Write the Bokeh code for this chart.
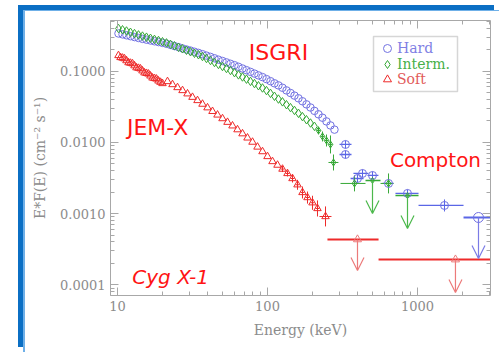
from bokeh.plotting import figure
from bokeh.models import (Range1d, FixedTicker, PrintfTickFormatter, LogAxis, Label,
                          Legend, LegendItem, PolyAnnotation, Arrow, OpenHead, ColumnDataSource)
from bokeh.embed import file_html
from bokeh.resources import INLINE

# ---------------- data ----------------
hard_e = [10.15, 10.80, 11.48, 12.20, 12.98, 13.80, 14.67, 15.60, 16.59, 17.64,
          18.76, 19.95, 21.21, 22.55, 23.98, 25.50, 27.11, 28.83, 30.66, 32.60,
          34.66, 36.85, 39.19, 41.67, 44.31, 47.11, 50.10, 53.27, 56.64, 60.23,
          64.04, 68.10, 72.41, 77.00, 81.87, 87.06, 92.57, 98.43, 104.7, 111.3,
          118.3, 125.8, 133.8, 142.3, 151.3, 160.9, 171.0, 181.9, 193.4, 205.6,
          218.7, 232.5, 247.2, 262.9, 279.5]
hard_f = [0.3384, 0.3287, 0.3192, 0.3101, 0.3012, 0.2926, 0.2842, 0.2769, 0.2698, 0.2629,
          0.2562, 0.2497, 0.2425, 0.2341, 0.2252, 0.2174, 0.2090, 0.2017, 0.1947, 0.1873,
          0.1807, 0.1733, 0.1656, 0.1588, 0.1518, 0.1450, 0.1390, 0.1329, 0.1270, 0.1214,
          0.1153, 0.1091, 0.1033, 0.0978, 0.0925, 0.0873, 0.0826, 0.0774, 0.0724, 0.0676,
          0.0632, 0.0585, 0.0537, 0.0494, 0.0454, 0.0416, 0.0378, 0.0342, 0.0309, 0.0277,
          0.0248, 0.0222, 0.0197, 0.0173, 0.0151]

interm_e = [10.15, 10.80, 11.48, 12.20, 12.98, 13.80, 14.67, 15.60, 16.59, 17.64,
            18.76, 19.95, 21.21, 22.55, 23.98, 25.50, 27.11, 28.83, 30.66, 32.60,
            34.66, 36.85, 39.19, 41.67, 44.31, 47.11, 50.10, 53.27, 56.64, 60.23,
            64.04, 68.10, 72.41, 77.00, 81.87, 87.06, 92.57, 98.43, 104.7, 111.3,
            118.3, 125.8, 133.8, 142.3, 151.3, 160.9, 171.0, 181.9, 193.4, 205.6]
interm_f = [0.3978, 0.3815, 0.3670, 0.3518, 0.3373, 0.3234, 0.3112, 0.3003, 0.2898, 0.2797,
            0.2698, 0.2595, 0.2497, 0.2379, 0.2273, 0.2166, 0.2064, 0.1966, 0.1873, 0.1784,
            0.1700, 0.1609, 0.1508, 0.1413, 0.1325, 0.1242, 0.1164, 0.1091, 0.1023, 0.0953,
            0.0887, 0.0829, 0.0772, 0.0719, 0.0670, 0.0624, 0.0581, 0.0534, 0.0488, 0.0444,
            0.0406, 0.0371, 0.0338, 0.0308, 0.0281, 0.0256, 0.0230, 0.0208, 0.0187, 0.0168]

soft_e = [10.15, 10.47, 10.80, 11.13, 11.48, 11.84, 12.20, 12.59, 12.98, 13.38,
          13.80, 14.23, 14.67, 15.13, 15.60, 16.09, 16.59, 17.11, 17.64, 18.19,
          18.76, 19.34, 19.95,
          21.54, 23.26, 25.12, 27.13, 29.29, 31.62, 34.15, 36.87, 39.81, 42.99,
          46.42, 50.12, 54.12, 58.43, 63.10, 68.13, 73.56, 79.43, 85.77, 92.61,
          100.0, 108.0, 116.6, 125.9, 135.9, 146.8, 158.5, 171.1, 184.8, 199.5,
          215.4, 243.6]
soft_f = [0.1662, 0.1560, 0.1532, 0.1500, 0.1409, 0.1320, 0.1299, 0.1275, 0.1195, 0.1120,
          0.1102, 0.1080, 0.1013, 0.0950, 0.0934, 0.0915, 0.0859, 0.0805, 0.0792, 0.0778,
          0.0731, 0.0701, 0.0672,
          0.0717, 0.0650, 0.0590, 0.0536, 0.0482, 0.0431, 0.0388, 0.0345, 0.0307, 0.0273,
          0.0243, 0.0216, 0.0192, 0.0171, 0.0151, 0.01325, 0.01157, 0.01010, 0.00862, 0.00743,
          0.00634, 0.00539, 0.00480, 0.00422, 0.00366, 0.00311, 0.00254, 0.00198, 0.00168, 0.00142,
          0.00118, 0.00091]

# error bars of the high-energy soft points
soft_err_e = [125.9, 135.9, 146.8, 158.5, 171.1, 184.8, 199.5, 215.4, 243.6]
soft_err_f = [0.00422, 0.00366, 0.00311, 0.00254, 0.00198, 0.00168, 0.00142, 0.00118, 0.00091]
soft_err_flo = [0.00383, 0.00332, 0.00273, 0.00216, 0.00163, 0.00138, 0.00113, 0.00091, 0.00066]
soft_err_fhi = [0.00465, 0.00403, 0.00354, 0.00298, 0.00240, 0.00204, 0.00178, 0.00153, 0.00126]
soft_err_elo = [122.1, 131.8, 142.4, 153.7, 166.0, 179.2, 193.5, 208.9, 222.0]
soft_err_ehi = [129.8, 140.1, 151.3, 163.4, 176.4, 190.5, 205.7, 222.1, 267.0]

# sparse points with error bars (end of ISGRI + Compton mode)
hard_pt_e = [331.1, 331.1, 398.1, 429.9, 501.2, 640.9, 857.7, 1513.6]
hard_pt_f = [0.00935, 0.00676, 0.00311, 0.00366, 0.00343, 0.00265, 0.00192, 0.00130]
hard_pt_elo = [302.0, 302.0, 358.0, 374.0, 464.0, 585.0, 713.0, 1016.0]
hard_pt_ehi = [363.0, 363.0, 437.0, 471.0, 549.0, 692.0, 1016.0, 2027.0]
hard_pt_flo = [0.00822, 0.00594, 0.00273, 0.00322, 0.00301, 0.00233, 0.00169, 0.00107]
hard_pt_fhi = [0.01064, 0.00769, 0.00354, 0.00417, 0.00390, 0.00302, 0.00218, 0.00158]

interm_pt_e = [218.8, 232.6, 247.4, 263.0, 275.4, 380.2, 640.9]
interm_pt_f = [0.01469, 0.01211, 0.01063, 0.00935, 0.00522, 0.00265, 0.00265]
interm_pt_elo = [212.2, 225.6, 240.0, 255.1, 255.0, 306.7, 567.0]
interm_pt_ehi = [225.6, 239.8, 255.1, 271.2, 297.0, 450.2, 691.8]
interm_pt_flo = [0.01291, 0.01031, 0.00876, 0.00699, 0.00403, 0.00205, 0.00192]
interm_pt_fhi = [0.01672, 0.01423, 0.01290, 0.01251, 0.00676, 0.00343, 0.00366]

# upper limits (value, arrow tip, energy band)
interm_ul_e = [501.2, 857.7]
interm_ul_f = [0.00292, 0.00179]
interm_ul_tip = [0.00100, 0.000618]
interm_ul_elo = [450.2, 713.0]
interm_ul_ehi = [566.6, 1016.0]

hard_ul_e = [2551.0]
hard_ul_f = [0.000881]
hard_ul_tip = [0.000234]
hard_ul_elo = [2027.0]
hard_ul_ehi = [3300.0]

soft_ul_e = [398.1, 1791.0]
soft_ul_f = [0.000433, 0.000226]
soft_ul_tip = [0.000159, 0.0000780]
soft_ul_elo = [251.0, 550.0]
soft_ul_ehi = [550.0, 3300.0]

x_major = [10, 100, 1000]
y_major = [0.0001, 0.001, 0.01, 0.1]

# ---------------- styles ----------------
BLUE = "#7272e2"
BLUE_BAR = "#5a66e6"
GREEN = "#36a836"
RED = "#ee2a2a"
RED_ARROW = "#ec7a7a"
GREY_TXT = "#8c8c8c"
GREY_AX = "#a8a8a8"
FRAME = "#0b6fc4"
FRAME_LIGHT = "#6fb0e8"
LABEL_RED = "#ff1414"

p = figure(width=476, height=342, x_axis_type="log", y_axis_type="log",
           x_range=Range1d(8.98, 3067), y_range=Range1d(7.07e-5, 0.515),
           output_backend="svg", toolbar_location=None,
           min_border_left=85, min_border_right=11, min_border_top=9, min_border_bottom=58,
           background_fill_color="white", border_fill_color="white")
# the slide's blue frame: a dark outer band (shadow) and a thin light inner band (border)
p.margin = (10, 0, 0, 23)
p.styles = {"border-left": "2px solid " + FRAME_LIGHT,
            "border-top": "1px solid " + FRAME_LIGHT,
            "box-shadow": "-5px -5px 0px 0px " + FRAME}
p.outline_line_color = None
p.grid.visible = False

x_minor = [k * 10 ** e for e in range(0, 4) for k in range(2, 10)]
y_minor = [k * 10.0 ** e for e in range(-5, 0) for k in range(2, 10)]


def style_axis(ax, labels=True):
    ax.axis_line_color = GREY_AX
    ax.major_tick_line_color = GREY_AX
    ax.minor_tick_line_color = GREY_AX
    ax.major_tick_in = 8
    ax.major_tick_out = 0
    ax.minor_tick_in = 4
    ax.minor_tick_out = 0
    ax.major_label_text_font = "DejaVu Serif"
    ax.major_label_text_font_size = "13px"
    ax.major_label_text_color = GREY_TXT if labels else None
    ax.major_label_standoff = 5
    ax.axis_label_text_font = "DejaVu Serif"
    ax.axis_label_text_font_size = "14px"
    ax.axis_label_text_font_style = "normal"
    ax.axis_label_text_color = GREY_TXT


p.xaxis.ticker = FixedTicker(ticks=x_major, minor_ticks=x_minor)
p.yaxis.ticker = FixedTicker(ticks=y_major, minor_ticks=y_minor)
p.xaxis.formatter = PrintfTickFormatter(format="%d")
p.yaxis.formatter = PrintfTickFormatter(format="%.4f")
p.xaxis.axis_label = "Energy (keV)"
p.yaxis.axis_label = "E*F(E) (cm\u207b\u00b2 s\u207b\u00b9)"
p.xaxis.axis_label_standoff = 8
p.yaxis.axis_label_standoff = 9
style_axis(p.xaxis[0])
style_axis(p.yaxis[0])

top_ax = LogAxis(ticker=FixedTicker(ticks=x_major, minor_ticks=x_minor))
right_ax = LogAxis(ticker=FixedTicker(ticks=y_major, minor_ticks=y_minor))
style_axis(top_ax, labels=False)
style_axis(right_ax, labels=False)
p.add_layout(top_ax, "above")
p.add_layout(right_ax, "right")

# ---------------- error bars ----------------
p.segment(soft_err_e, soft_err_flo, soft_err_e, soft_err_fhi, line_color=RED, line_width=1)
p.segment(soft_err_elo, soft_err_f, soft_err_ehi, soft_err_f, line_color=RED, line_width=1)
p.segment(hard_pt_e, hard_pt_flo, hard_pt_e, hard_pt_fhi, line_color=BLUE_BAR, line_width=1)
p.segment(hard_pt_elo, hard_pt_f, hard_pt_ehi, hard_pt_f, line_color=BLUE_BAR, line_width=1.3)
p.segment(interm_pt_e, interm_pt_flo, interm_pt_e, interm_pt_fhi, line_color=GREEN, line_width=1)
p.segment(interm_pt_elo, interm_pt_f, interm_pt_ehi, interm_pt_f, line_color=GREEN, line_width=1)

# upper-limit bands
p.segment(interm_ul_elo, interm_ul_f, interm_ul_ehi, interm_ul_f, line_color=GREEN, line_width=1.5)
p.segment(hard_ul_elo, hard_ul_f, hard_ul_ehi, hard_ul_f, line_color=BLUE_BAR, line_width=2)
p.segment(soft_ul_elo, soft_ul_f, soft_ul_ehi, soft_ul_f, line_color=RED, line_width=2)

for xs, ys, tips, col in [(interm_ul_e, interm_ul_f, interm_ul_tip, "#4cb84c"),
                          (hard_ul_e, hard_ul_f, hard_ul_tip, "#7b7be6"),
                          (soft_ul_e, soft_ul_f, soft_ul_tip, RED_ARROW)]:
    src = ColumnDataSource(dict(x=xs, y0=ys, y1=tips))
    p.add_layout(Arrow(end=OpenHead(size=13, line_color=col, line_width=1.2),
                       x_start="x", y_start="y0", x_end="x", y_end="y1",
                       source=src, line_color=col, line_width=1.2))

# ---------------- markers ----------------
r_hard = p.scatter(hard_e, hard_f, marker="circle", size=7.5, fill_color=None,
                   line_color=BLUE, line_width=1)
p.scatter(hard_pt_e, hard_pt_f, marker="circle", size=8, fill_color=None,
          line_color=BLUE, line_width=1)
p.scatter(hard_ul_e, hard_ul_f, marker="circle", size=10, fill_color=None,
          line_color=BLUE, line_width=1)

r_interm = p.scatter(interm_e, interm_f, marker="diamond", size=8.5, fill_color=None,
                     line_color=GREEN, line_width=1)
p.scatter(interm_pt_e, interm_pt_f, marker="diamond", size=7, fill_color=None,
          line_color=GREEN, line_width=1)
p.scatter(interm_ul_e, interm_ul_f, marker="diamond", size=6, fill_color=None,
          line_color=GREEN, line_width=1)

r_soft = p.scatter(soft_e, soft_f, marker="triangle", size=7.5, fill_color=None,
                   line_color=RED, line_width=1)
p.scatter(soft_ul_e, soft_ul_f, marker="triangle", size=8, fill_color=None,
          line_color=RED_ARROW, line_width=1)

# ---------------- legend ----------------
p.add_layout(PolyAnnotation(xs=[509, 1848, 1848, 509], ys=[0.307, 0.307, 0.0519, 0.0519],
                            fill_alpha=0, line_color="#777777", line_width=1.5))
for lab, rend, col, vy in [("Hard", r_hard, "#8080e4", 237),
                           ("Interm.", r_interm, "#48b048", 221.5),
                           ("Soft", r_soft, "#e25a5a", 206)]:
    lg = Legend(items=[LegendItem(label=lab, renderers=[rend])], location=(267, vy),
                orientation="vertical", padding=0, margin=0, spacing=0,
                glyph_width=20, glyph_height=20, label_height=20, label_standoff=0,
                label_text_font="DejaVu Serif", label_text_font_size="14px",
                label_text_color=col, border_line_color=None, background_fill_alpha=0)
    p.add_layout(lg)

# ---------------- instrument labels ----------------
for txt, x, y, size, style in [("ISGRI", 118.4, 0.183, "22px", "normal"),
                               ("JEM-X", 18.5, 0.0162, "22px", "normal"),
                               ("Compton", 1318.0, 0.00557, "20px", "normal"),
                               ("Cyg X-1", 22.6, 0.000127, "20px", "italic")]:
    p.add_layout(Label(x=x, y=y, text=txt, text_align="center", text_baseline="middle",
                       text_font="DejaVu Sans", text_font_size=size, text_font_style=style,
                       text_color=LABEL_RED))

open("out.html", "w").write(file_html(p, INLINE))
